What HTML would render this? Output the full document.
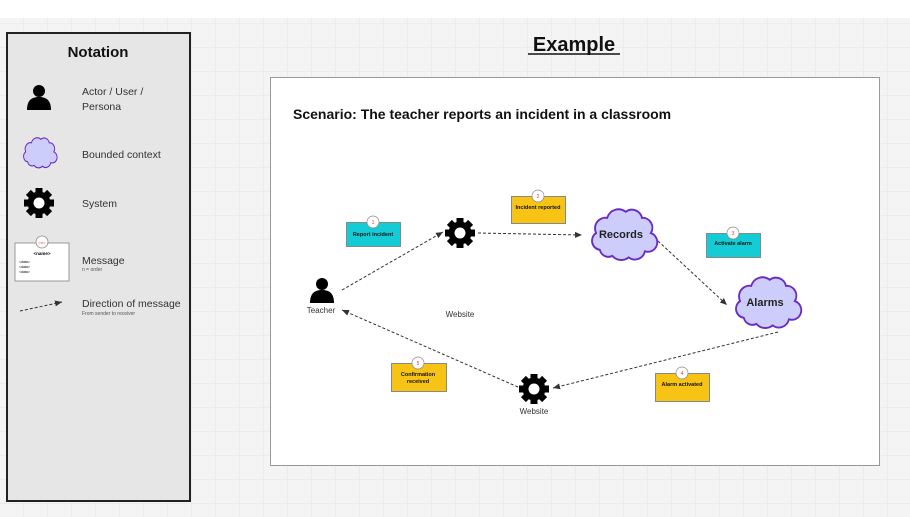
<!DOCTYPE html>
<html><head><style>
html,body{margin:0;padding:0;width:910px;height:517px;overflow:hidden;background:#fff}
svg{display:block;font-family:"Liberation Sans",sans-serif}
</style></head><body>
<svg width="910" height="517" viewBox="0 0 910 517" xmlns="http://www.w3.org/2000/svg">
<defs>
<pattern id="grid" width="24" height="24" patternUnits="userSpaceOnUse">
<rect width="24" height="24" fill="#f4f4f4"/>
<path d="M24 0V24H0" fill="none" stroke="#e4e4e4" stroke-width="1"/>
</pattern>
<marker id="ah" markerWidth="8" markerHeight="8" refX="7" refY="4" orient="auto" markerUnits="userSpaceOnUse">
<path d="M0,1 L7,4 L0,7 z" fill="#333"/>
</marker>
<g id="gear">
<g fill="#000">
<rect x="-3.5" y="-15" width="7" height="30"/>
<rect x="-3.5" y="-15" width="7" height="30" transform="rotate(45)"/>
<rect x="-3.5" y="-15" width="7" height="30" transform="rotate(90)"/>
<rect x="-3.5" y="-15" width="7" height="30" transform="rotate(135)"/>
<circle r="11.5"/>
</g>
<circle r="5.5" fill="#fff"/>
</g>
<g id="person" fill="#000">
<circle cx="0" cy="-7" r="6"/>
<path d="M-12,12 C-12,2 -7,-1 0,-1 C7,-1 12,2 12,12 z"/>
</g>
<path id="cloud" d="M20,55 a12,12 0 0,1 -5,-22 a14,14 0 0,1 15,-20 a16,16 0 0,1 25,-8 a14,14 0 0,1 22,8 a13,13 0 0,1 12,20 a12,12 0 0,1 -8,24 a14,14 0 0,1 -22,8 a16,16 0 0,1 -22,-2 a12,12 0 0,1 -17,-8 z" fill="#cdcdfc" stroke="#6a2bc4" stroke-width="2.5"/>
</defs>
<rect x="0" y="18" width="910" height="499" fill="url(#grid)"/>

<!-- Notation panel -->
<rect x="7" y="33" width="183" height="468" fill="#e6e6e6" stroke="#222" stroke-width="2"/>
<text x="98" y="57" font-size="15" font-weight="bold" text-anchor="middle" fill="#111">Notation</text>
<use href="#person" transform="translate(39,98)"/>
<text x="82" y="95" font-size="10.5" fill="#333">Actor / User /</text>
<text x="82" y="110" font-size="10.5" fill="#333">Persona</text>
<use href="#cloud" transform="translate(20,137) scale(0.38,0.45)"/>
<text x="82" y="158" font-size="10.5" fill="#333">Bounded context</text>
<use href="#gear" transform="translate(39,203) scale(1)"/>
<text x="82" y="207" font-size="10.5" fill="#333">System</text>
<rect x="15" y="243" width="54" height="38" fill="#fff" stroke="#999"/>
<circle cx="42" cy="242" r="6" fill="#fff" stroke="#888" stroke-width="0.8"/>
<text x="42" y="244" font-size="4" fill="#e33" text-anchor="middle">&lt;n&gt;</text>
<text x="42" y="255" font-size="4.5" font-weight="bold" text-anchor="middle">&lt;name&gt;</text>
<text x="19" y="263" font-size="3.5">&lt;data&gt;</text>
<text x="19" y="268" font-size="3.5">&lt;data&gt;</text>
<text x="19" y="273" font-size="3.5">&lt;data&gt;</text>
<text x="82" y="264" font-size="10.5" fill="#333">Message</text>
<text x="82" y="271" font-size="5" fill="#555">n = order</text>
<line x1="20" y1="311" x2="62" y2="302" stroke="#333" stroke-dasharray="3,2" marker-end="url(#ah)"/>
<text x="82" y="307" font-size="10.5" fill="#333">Direction of message</text>
<text x="82" y="315" font-size="5" fill="#555">From sender to receiver</text>

<!-- Example -->
<text x="574" y="51" font-size="20" font-weight="bold" text-anchor="middle" fill="#111">Example</text>
<line x1="528" y1="54" x2="620" y2="54" stroke="#111" stroke-width="1.5"/>
<rect x="270.5" y="77.5" width="609" height="388" fill="#fff" stroke="#999"/>
<text x="293" y="119" font-size="14" font-weight="bold" fill="#111">Scenario: The teacher reports an incident in a classroom</text>

<!-- arrows -->
<g stroke="#333" stroke-width="1" stroke-dasharray="3,2" fill="none">
<line x1="342" y1="290" x2="443" y2="232" marker-end="url(#ah)"/>
<line x1="478" y1="233" x2="582" y2="235" marker-end="url(#ah)"/>
<line x1="658" y1="241" x2="727" y2="305" marker-end="url(#ah)"/>
<line x1="778" y1="332" x2="553" y2="388" marker-end="url(#ah)"/>
<line x1="518" y1="387" x2="342" y2="310" marker-end="url(#ah)"/>
</g>

<use href="#person" transform="translate(322,291)"/>
<text x="321" y="313" font-size="8" fill="#333" text-anchor="middle">Teacher</text>
<use href="#gear" transform="translate(460,233)"/>
<use href="#gear" transform="translate(534,389)"/>
<text x="534" y="414" font-size="8" fill="#333" text-anchor="middle">Website</text>
<text x="460" y="317" font-size="8" fill="#333" text-anchor="middle">Website</text>

<use href="#cloud" transform="translate(585,208) scale(0.74,0.76)"/>
<text x="621" y="238" font-size="11" font-weight="bold" fill="#222" text-anchor="middle">Records</text>
<use href="#cloud" transform="translate(729,276) scale(0.74,0.76)"/>
<text x="765" y="306" font-size="11" font-weight="bold" fill="#222" text-anchor="middle">Alarms</text>

<!-- messages -->
<g font-size="5.5" font-weight="bold" text-anchor="middle" fill="#111">
<rect x="346.5" y="222.5" width="54" height="24" fill="#13ccd6" stroke="#888"/>
<text x="373" y="236">Report incident</text>
<rect x="511.5" y="196.5" width="54" height="27" fill="#f7c315" stroke="#888"/>
<text x="538" y="209">Incident reported</text>
<rect x="706.5" y="233.5" width="54" height="24" fill="#13ccd6" stroke="#888"/>
<text x="733" y="245">Activate alarm</text>
<rect x="655.5" y="373.5" width="54" height="28" fill="#f7c315" stroke="#888"/>
<text x="682" y="386">Alarm activated</text>
<rect x="391.5" y="363.5" width="55" height="28" fill="#f7c315" stroke="#888"/>
<text x="418" y="376">Confirmation</text>
<text x="418" y="383">received</text>
</g>
<g font-size="5" text-anchor="middle" fill="#e33">
<circle cx="373" cy="222" r="6" fill="#fff" stroke="#888" stroke-width="0.7"/><text x="373" y="224">1</text>
<circle cx="538" cy="196" r="6" fill="#fff" stroke="#888" stroke-width="0.7"/><text x="538" y="198">2</text>
<circle cx="733" cy="233" r="6" fill="#fff" stroke="#888" stroke-width="0.7"/><text x="733" y="235">3</text>
<circle cx="682" cy="373" r="6" fill="#fff" stroke="#888" stroke-width="0.7"/><text x="682" y="375">4</text>
<circle cx="418" cy="363" r="6" fill="#fff" stroke="#888" stroke-width="0.7"/><text x="418" y="365">5</text>
</g>
</svg>
</body></html>
